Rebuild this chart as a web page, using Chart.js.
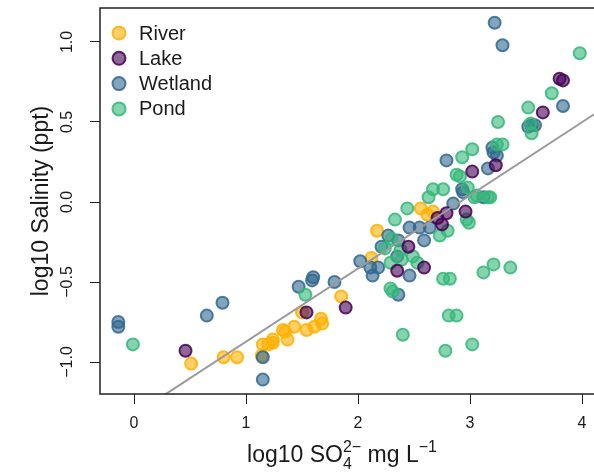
<!DOCTYPE html>
<html>
<head>
<meta charset="utf-8">
<script src="https://cdn.jsdelivr.net/npm/chart.js@4.4.0/dist/chart.umd.min.js"></script>
<style>
  html, body { margin: 0; padding: 0; background: #fff; }
  canvas { display: block; }
</style>
</head>
<body>
<canvas id="graf_sulfato" width="594" height="473"></canvas>
<script>
// log10 sulfato (x) y log10 salinidad (y) por tipo de sitio
var riverX = [0.51, 0.80, 0.92, 1.14, 1.15, 1.20, 1.24, 1.24, 1.33, 1.35, 1.37, 1.43, 1.50, 1.54, 1.61, 1.67, 1.68, 1.85, 2.12, 2.17, 2.56, 2.62, 2.67];
var riverY = [-1.01, -0.97, -0.97, -0.96, -0.89, -0.89, -0.88, -0.86, -0.80, -0.81, -0.86, -0.78, -0.69, -0.80, -0.78, -0.73, -0.76, -0.59, -0.35, -0.18, -0.04, -0.08, -0.06];

var lakeX = [0.46, 1.54, 1.89, 2.35, 2.45, 2.59, 2.71, 2.75, 2.79, 2.96, 3.02, 3.23, 3.65, 3.80, 3.83];
var lakeY = [-0.93, -0.69, -0.66, -0.43, -0.28, -0.41, -0.10, -0.14, -0.07, -0.06, 0.19, 0.23, 0.56, 0.77, 0.76];

var wetlandX = [-0.14, -0.14, 0.65, 0.79, 1.15, 1.15, 1.47, 1.59, 1.60, 1.79, 2.02, 2.11, 2.13, 2.18, 2.21, 2.27, 2.35, 2.36, 2.36, 2.46, 2.46, 2.55, 2.59, 2.64, 2.85, 2.93, 2.94, 2.79, 3.12, 3.16, 3.21, 3.24, 3.20, 3.22, 3.29, 3.52, 3.55, 3.58, 3.83];
var wetlandY = [-0.75, -0.78, -0.71, -0.63, -1.11, -0.97, -0.53, -0.49, -0.47, -0.50, -0.37, -0.41, -0.46, -0.41, -0.28, -0.21, -0.34, -0.24, -0.58, -0.46, -0.16, -0.16, -0.24, -0.16, -0.01, 0.08, 0.06, 0.26, 0.03, 0.21, 0.31, 0.29, 0.34, 1.12, 0.98, 0.47, 0.48, 0.48, 0.60];

var pondX = [-0.01, 1.53, 2.31, 2.40, 2.76, 2.82, 2.81, 2.88, 2.78, 3.02, 3.12, 3.21, 3.36, 2.29, 2.30, 2.33, 2.44, 2.39, 2.49, 2.53, 2.29, 2.63, 2.67, 2.76, 2.73, 2.80, 2.88, 2.91, 2.93, 2.98, 3.02, 2.97, 2.99, 3.04, 3.06, 3.16, 3.18, 3.24, 3.29, 3.25, 3.52, 3.54, 3.55, 3.73, 3.98, 2.24, 2.38];
var pondY = [-0.89, -0.58, -0.56, -0.83, -0.48, -0.48, -0.71, -0.71, -0.93, -0.89, -0.44, -0.39, -0.41, -0.38, -0.23, -0.11, -0.04, -0.36, -0.34, -0.38, -0.54, 0.03, 0.08, 0.08, -0.21, -0.18, 0.17, 0.16, 0.28, 0.09, 0.33, -0.11, -0.13, 0.03, 0.04, 0.03, 0.03, 0.36, 0.36, 0.50, 0.59, 0.49, 0.43, 0.68, 0.93, -0.29, -0.30];

// recta de ajuste (extremos)
var fitX = [0, 4.2];
var fitY = [-1.33, 0.59];

var xTicks = [0, 1, 2, 3, 4];
var yTicks = [-1.0, -0.5, 0.0, 0.5, 1.0];
var legendLabels = ['River', 'Lake', 'Wetland', 'Pond'];

var fuente = 'Liberation Sans, Arial, sans-serif';

function puntos(xs, ys) {
  return xs.map(function (x, i) { return { x: x, y: ys[i] }; });
}

function serie(label, xs, ys, rgb, orden) {
  return {
    type: 'scatter',
    label: label,
    data: puntos(xs, ys),
    backgroundColor: 'rgba(' + rgb + ',0.6)',
    borderColor: 'rgba(' + rgb + ',0.85)',
    borderWidth: 2,
    pointRadius: 6,
    pointHoverRadius: 6,
    order: orden
  };
}

// marco tipo box() de R
var marco = {
  id: 'marco',
  afterDatasetsDraw: function (chart) {
    var a = chart.chartArea, ctx = chart.ctx;
    ctx.save();
    ctx.strokeStyle = '#222';
    ctx.lineWidth = 1.5;
    ctx.strokeRect(a.left, a.top, a.right - a.left + 6, a.bottom - a.top);
    ctx.restore();
  }
};

// leyenda dentro del area del grafico
var leyenda = {
  id: 'leyenda',
  afterDatasetsDraw: function (chart) {
    var a = chart.chartArea, ctx = chart.ctx;
    ctx.save();
    ctx.font = '20px ' + fuente;
    ctx.textBaseline = 'middle';
    legendLabels.forEach(function (lab, i) {
      var ds = chart.data.datasets.find(function (d) { return d.label === lab; });
      var cy = a.top + 25 + i * 25.3;
      ctx.beginPath();
      ctx.arc(a.left + 19, cy, 6.5, 0, Math.PI * 2);
      ctx.fillStyle = ds.backgroundColor;
      ctx.fill();
      ctx.lineWidth = 2;
      ctx.strokeStyle = ds.borderColor;
      ctx.stroke();
      ctx.fillStyle = '#1a1a1a';
      ctx.fillText(lab, a.left + 39, cy + 1);
    });
    ctx.restore();
  }
};

// titulo del eje x con subindice y superindice
var tituloX = {
  id: 'tituloX',
  afterDraw: function (chart) {
    var ctx = chart.ctx;
    var grande = '23px ' + fuente, chico = '16px ' + fuente;
    var partes = [
      { t: 'log10 SO', f: grande, dy: 0 },
      { t: '2\u2212', f: chico, dy: -10, sub: '4' },
      { t: ' mg L', f: grande, dy: 0 },
      { t: '\u22121', f: chico, dy: -10 }
    ];
    ctx.save();
    var total = 0;
    partes.forEach(function (p) {
      ctx.font = p.f;
      p.w = ctx.measureText(p.t).width;
      total += p.w;
    });
    var x = 342 - total / 2;
    var base = 462;
    ctx.fillStyle = '#1a1a1a';
    ctx.textBaseline = 'alphabetic';
    partes.forEach(function (p) {
      ctx.font = p.f;
      ctx.fillText(p.t, x, base + p.dy);
      if (p.sub) ctx.fillText(p.sub, x, base + 7);
      x += p.w;
    });
    ctx.restore();
  }
};

var ctx = document.getElementById('graf_sulfato').getContext('2d');

var grafico = new Chart(ctx, {
  data: {
    datasets: [
      serie('River', riverX, riverY, '255,176,0', 4),
      serie('Lake', lakeX, lakeY, '68,1,84', 1),
      serie('Wetland', wetlandX, wetlandY, '49,104,142', 3),
      serie('Pond', pondX, pondY, '53,183,121', 2),
      {
        type: 'line',
        label: 'ajuste',
        data: puntos(fitX, fitY),
        borderColor: '#9a9a9a',
        borderWidth: 2,
        pointRadius: 0,
        fill: false,
        order: 0
      }
    ]
  },
  options: {
    responsive: false,
    animation: false,
    events: [],
    layout: { autoPadding: false, padding: { top: 8, right: 0, bottom: 0, left: 0 } },
    plugins: {
      legend: { display: false },
      tooltip: { enabled: false }
    },
    scales: {
      x: {
        type: 'linear',
        min: -0.3036,
        max: 4.107,
        afterFit: function (s) { s.height = 79; s.paddingLeft = 0; s.paddingRight = 0; },
        afterBuildTicks: function (s) { s.ticks = xTicks.map(function (v) { return { value: v }; }); },
        border: { display: false },
        grid: { drawOnChartArea: false, drawTicks: true, tickLength: 10, tickColor: '#222', tickWidth: 1 },
        ticks: {
          padding: 10,
          color: '#1a1a1a',
          font: { family: fuente, size: 16 },
          callback: function (v) { return String(v); }
        }
      },
      y: {
        type: 'linear',
        min: -1.2,
        max: 1.2125,
        afterFit: function (s) { s.width = 100; s.paddingTop = 0; s.paddingBottom = 0; },
        afterBuildTicks: function (s) { s.ticks = yTicks.map(function (v) { return { value: v }; }); },
        border: { display: false },
        grid: { drawOnChartArea: false, drawTicks: true, tickLength: 10, tickColor: '#222', tickWidth: 1 },
        ticks: {
          minRotation: 90,
          maxRotation: 90,
          crossAlign: 'center',
          padding: 7,
          color: '#1a1a1a',
          font: { family: fuente, size: 16 },
          callback: function (v) { return v.toFixed(1).replace('-', '\u2212'); }
        },
        title: {
          display: true,
          text: 'log10 Salinity (ppt)',
          color: '#1a1a1a',
          font: { family: fuente, size: 23 },
          padding: { top: 28, bottom: 0 }
        }
      }
    }
  },
  plugins: [marco, leyenda, tituloX]
});
</script>
</body>
</html>
